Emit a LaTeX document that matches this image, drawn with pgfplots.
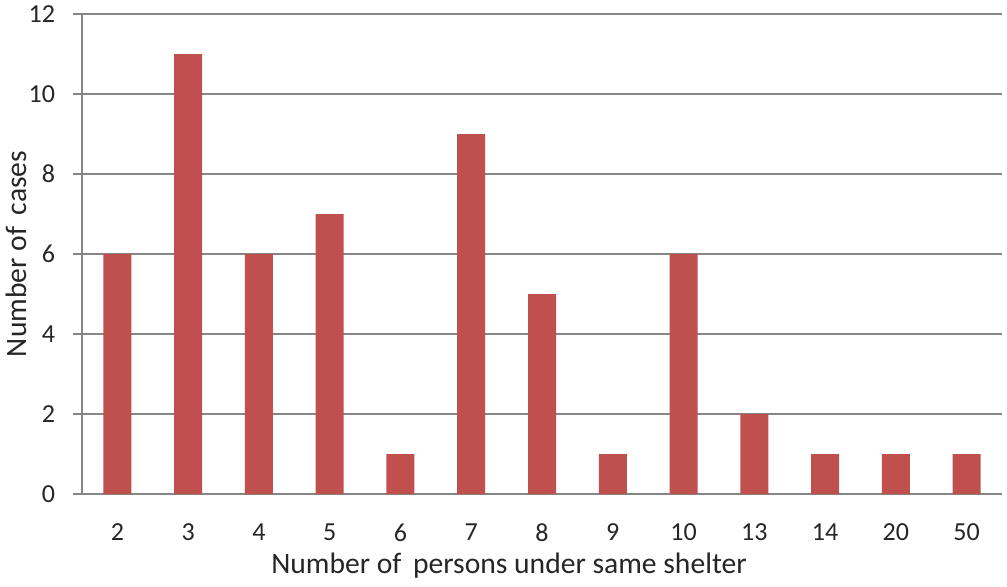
\documentclass[border=0pt]{standalone}
\usepackage{pgfplots}
\pgfplotsset{compat=1.18}
\usepackage{fontspec}
\setmainfont{Carlito}
\definecolor{barred}{HTML}{C0504D}
\definecolor{gridgray}{HTML}{868686}
\definecolor{txt}{HTML}{262626}
\begin{document}
\begin{tikzpicture}
\begin{axis}[
  scale only axis,
  width=460pt, height=240pt,
  xmin=-0.5, xmax=12.5,
  ymin=0, ymax=12,
  ytick={0,2,...,12},
  xtick={0,...,12},
  xticklabels={2,3,4,5,6,7,8,9,10,13,14,20,50},
  minor xtick={-0.5,0.5,...,12.5},
  axis x line*=bottom,
  axis y line*=left,
  axis line style={gridgray, line width=0.8pt, -},
  ymajorgrids,
  grid style={gridgray, line width=0.8pt},
  tick align=outside,
  xtick style={draw=none},
  minor x tick style={gridgray, line width=0.8pt},
  minor tick length=4pt,
  ytick style={gridgray, line width=0.8pt},
  major tick length=4.5pt,
  /pgf/number format/assume math mode=true,
  tick label style={font=\fontsize{13}{15}\selectfont, text=txt},
  yticklabel style={anchor=east, xshift=-5.5pt},
  xticklabel style={anchor=north, yshift=-7pt},
  ylabel={Number of\, cases},
  xlabel={Number of\, persons under same shelter},
  label style={font=\fontsize{14.8}{17}\selectfont, text=txt},
  ylabel style={at={(axis description cs:-0.0717,0.5)}, anchor=center},
  xlabel style={at={(axis description cs:0.5,0)}, anchor=center, xshift=-16.5pt, yshift=-36pt},
  ybar, bar width=14pt,
  clip=false,
]
\addplot[fill=barred, draw=none] coordinates {
 (0,6) (1,11) (2,6) (3,7) (4,1) (5,9) (6,5) (7,1) (8,6) (9,2) (10,1) (11,1) (12,1)
};
\end{axis}
\pgfresetboundingbox
\useasboundingbox ([xshift=-41pt,yshift=-46pt]current axis.south west) rectangle ([xshift=2.5pt,yshift=7pt]current axis.north east);
\end{tikzpicture}
\end{document}
